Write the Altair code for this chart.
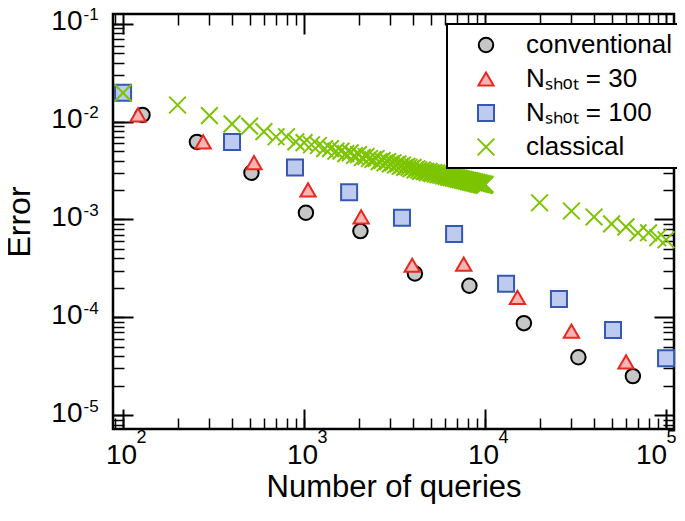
import altair as alt
import pandas as pd

FONT = "Liberation Sans"

series_names = ["conventional", "Nₛₕₒₜ = 30", "Nₛₕₒₜ = 100", "classical"]
series_shapes = ["circle", "triangle-up", "square", "M-1,-1L1,1M-1,1L1,-1"]
series_fill = ["#c6c6c6", "#fbb4b4", "#bccbee", "transparent"]
series_stroke = ["#000000", "#e8281e", "#3657b5", "#7cc400"]
series_size = [210, 280, 220, 220]

conv_x = [128, 256, 512, 1024, 2048, 4096, 8192, 16384, 32768, 65536]
conv_y = [0.0117, 0.0062, 0.0030, 0.00117, 0.00076, 0.00028, 0.00021, 0.000087, 0.000039, 0.000025]

n30_x = [121, 277, 529, 1052, 2067, 3956, 7620, 15100, 30000, 60100]
n30_y = [0.0117, 0.0062, 0.0038, 0.0020, 0.00106, 0.00034, 0.00035, 0.00016, 0.000072, 0.000035]

n100_x = [100, 400, 891, 1774, 3475, 6745, 13060, 25600, 50900, 100000]
n100_y = [0.0197, 0.0062, 0.0034, 0.0019, 0.00104, 0.00071, 0.00022, 0.000154, 0.000074, 0.000038]

classical_x = [
    100, 200, 300, 400, 500, 600, 700, 800, 900, 1000,
    1100, 1200, 1300, 1400, 1500, 1600, 1700, 1800, 1900, 2000,
    2100, 2200, 2300, 2400, 2500, 2600, 2700, 2800, 2900, 3000,
    3100, 3200, 3300, 3400, 3500, 3600, 3700, 3800, 3900, 4000,
    4100, 4200, 4300, 4400, 4500, 4600, 4700, 4800, 4900, 5000,
    5100, 5200, 5300, 5400, 5500, 5600, 5700, 5800, 5900, 6000,
    6100, 6200, 6300, 6400, 6500, 6600, 6700, 6800, 6900, 7000,
    7100, 7200, 7300, 7400, 7500, 7600, 7700, 7800, 7900, 8000,
    8100, 8200, 8300, 8400, 8500, 8600, 8700, 8800, 8900, 9000,
    9100, 9200, 9300, 9400, 9500, 9600, 9700, 9800, 9900, 10000,
    20000, 30000, 40000, 50000, 60000, 70000, 80000, 90000, 100000,
]
classical_y = [
    0.0197, 0.0148, 0.0115, 0.0095, 0.0090, 0.0079, 0.0070, 0.0070, 0.0062, 0.0061,
    0.0058, 0.0057, 0.0053, 0.0053, 0.0050, 0.0050, 0.0047, 0.0048, 0.0045, 0.0046,
    0.0043, 0.0044, 0.0042, 0.0041, 0.0042, 0.0039, 0.0040, 0.0038, 0.0039, 0.0037,
    0.0038, 0.0036, 0.0037, 0.0035, 0.0036, 0.0034, 0.0035, 0.0034, 0.0033, 0.0034,
    0.0032, 0.0033, 0.0032, 0.0031, 0.0032, 0.0031, 0.0031, 0.0030, 0.0031, 0.0030,
    0.00296, 0.00302, 0.00291, 0.00297, 0.00286, 0.00292, 0.00283, 0.00289, 0.00279, 0.00284,
    0.00275, 0.00281, 0.00271, 0.00277, 0.00268, 0.00273, 0.00264, 0.00270, 0.00261, 0.00266,
    0.00257, 0.00264, 0.00255, 0.00260, 0.00252, 0.00257, 0.00249, 0.00254, 0.00246, 0.00251,
    0.00243, 0.00249, 0.00241, 0.00246, 0.00238, 0.00244, 0.00236, 0.00241, 0.00234, 0.00239,
    0.00231, 0.00237, 0.00229, 0.00234, 0.00227, 0.00232, 0.00225, 0.00230, 0.00223, 0.00228,
    0.00148, 0.00122, 0.00106, 0.00090, 0.00084, 0.00073, 0.00073, 0.00065, 0.00062,
]

x_domain = [88, 110600]
y_domain = [7.2e-6, 0.126]
x_major = [100, 1000, 10000, 100000]
y_major = [1e-5, 1e-4, 1e-3, 1e-2, 1e-1]

x_minor = [m * 10 ** e for e in range(1, 5) for m in range(2, 10)
           if x_domain[0] <= m * 10 ** e <= x_domain[1]]
y_minor = [m * 10.0 ** e for e in range(-6, 0) for m in range(2, 10)
           if y_domain[0] <= m * 10.0 ** e <= y_domain[1]]

rows = []
for name, xs, ys in [(series_names[0], conv_x, conv_y),
                     (series_names[1], n30_x, n30_y),
                     (series_names[2], n100_x, n100_y),
                     (series_names[3], classical_x, classical_y)]:
    for xv, yv in zip(xs, ys):
        rows.append({"series": name, "queries": xv, "error": yv})
df = pd.DataFrame(rows)

xscale = alt.Scale(type="log", domain=x_domain, nice=False)
yscale = alt.Scale(type="log", domain=y_domain, nice=False)

EXP = "round(log(datum.value)/LN10)"
EXP_LABEL = f"abs(datum.value/pow(10,{EXP})-1) < 0.001 ? '' + {EXP} : ''"

MAJ = {"expr": "-20"}
MIN = {"expr": "-11"}

common = dict(domain=False, grid=False, labelFlush=False, labelOverlap=False,
              labelBound=False, tickColor="black", labelColor="black",
              labelFont=FONT, titleFont=FONT, titleFontWeight="normal",
              titleColor="black")

xA_offset = {"condition": {"test": "datum.value > 50000", "value": -15}, "value": -2}
xB_offset = {"condition": {"test": "datum.value > 50000", "value": 0}, "value": 13}

xA = alt.Axis(orient="bottom", values=x_major, tickSize=MAJ, tickWidth=2,
              labelExpr="'10'", labelFontSize=28, labelPadding=32, labelOffset=xA_offset,
              title="Number of queries", titleFontSize=31, titlePadding=3, **common)
yA = alt.Axis(orient="left", values=y_major, tickSize=MAJ, tickWidth=2,
              labelExpr="'10'", labelFontSize=28, labelPadding=51, labelOffset=-2,
              labelAlign="right", labelBaseline="middle",
              title="Error", titleFontSize=32, titlePadding=14, **common)

xB = alt.Axis(orient="bottom", values=x_minor + x_major, tickSize=MIN, tickWidth=1.5,
              labelExpr=EXP_LABEL, labelFontSize=18, labelPadding=10, labelOffset=xB_offset,
              labelAlign="left", title=None, **common)
yB = alt.Axis(orient="left", values=y_minor + y_major, tickSize=MIN, tickWidth=1.5,
              labelExpr=EXP_LABEL, labelFontSize=17, labelPadding=41, labelOffset=-9,
              labelAlign="left", labelBaseline="middle", title=None, **common)

xC = alt.Axis(orient="top", values=x_major, tickSize=MAJ, tickWidth=2,
              labels=False, title=None, **common)
yC = alt.Axis(orient="right", values=y_major, tickSize=MAJ, tickWidth=2,
              labels=False, title=None, **common)
xD = alt.Axis(orient="top", values=x_minor, tickSize=MIN, tickWidth=1.5,
              labels=False, title=None, **common)
yD = alt.Axis(orient="right", values=y_minor, tickSize=MIN, tickWidth=1.5,
              labels=False, title=None, **common)

legend = alt.Legend(title=None, orient="none", legendX=334, legendY=10,
                    labelFont=FONT, labelFontSize=26, labelColor="black",
                    symbolStrokeWidth=2, strokeColor="black",
                    fillColor="white", padding=8, rowPadding=8, symbolOffset=18,
                    labelOffset=27, cornerRadius=0, labelLimit=400)

base = alt.Chart(df)

points = base.mark_point(filled=True, strokeWidth=2, opacity=1).encode(
    x=alt.X("queries:Q", scale=xscale, axis=xA),
    y=alt.Y("error:Q", scale=yscale, axis=yA),
    shape=alt.Shape("series:N", scale=alt.Scale(domain=series_names, range=series_shapes),
                    legend=legend),
    fill=alt.Fill("series:N", scale=alt.Scale(domain=series_names, range=series_fill),
                  legend=legend),
    stroke=alt.Stroke("series:N", scale=alt.Scale(domain=series_names, range=series_stroke),
                      legend=legend),
    size=alt.Size("series:N", scale=alt.Scale(domain=series_names, range=series_size),
                  legend=legend),
)

def ghost(ax, ay):
    return base.mark_point(opacity=0).encode(
        x=alt.X("queries:Q", scale=xscale, axis=ax),
        y=alt.Y("error:Q", scale=yscale, axis=ay),
    )

chart = alt.layer(points, ghost(xB, yB), ghost(xC, yC), ghost(xD, yD)).resolve_axis(
    x="independent", y="independent"
).properties(
    width=561, height=415,
    autosize=alt.AutoSizeParams(type="none"),
    padding={"left": 105, "top": 6, "right": 3, "bottom": 76},
).configure_view(
    stroke="black", strokeWidth=2.5
).configure_legend(
    strokeWidth=2
)

chart.save("out.html", embed_options={"renderer": "svg", "actions": False})
